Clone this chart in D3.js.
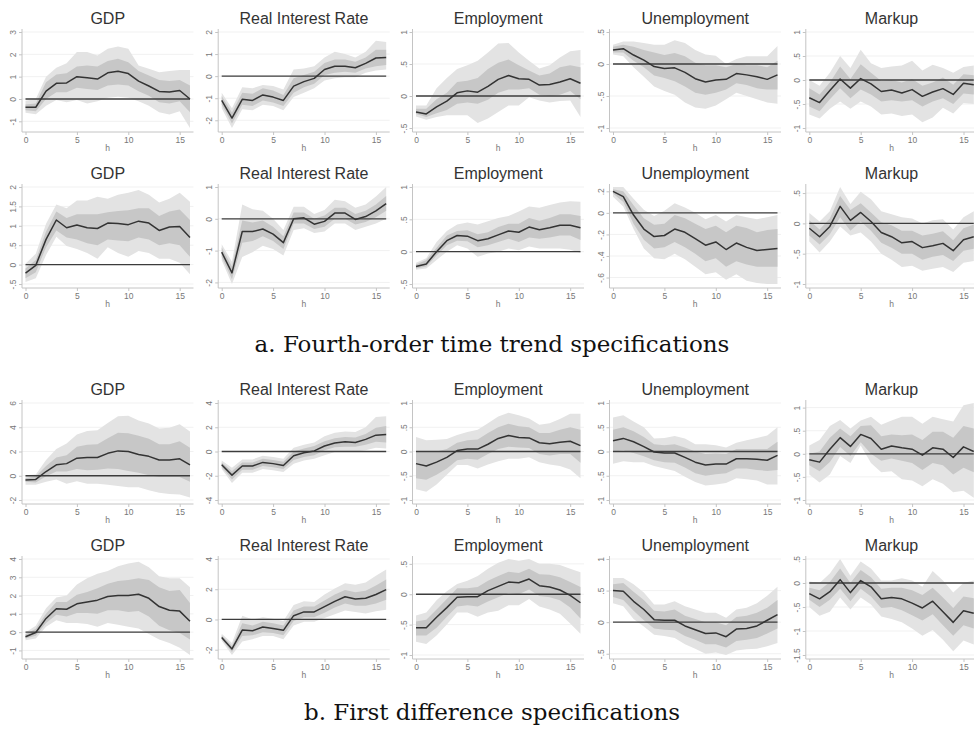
<!DOCTYPE html>
<html><head><meta charset="utf-8">
<script src="https://cdn.jsdelivr.net/npm/d3@7"></script>
<style>body{margin:0;background:#fff}svg{display:block}</style>
</head><body><svg id="c" width="974" height="735"></svg>
<script>
// ---------- data ----------
const horizons = [0,1,2,3,4,5,6,7,8,9,10,11,12,13,14,15,16];
const xTicks = [0,5,10,15];
const titles = ["GDP","Real Interest Rate","Employment","Unemployment","Markup"];
const captions = ["a. Fourth-order time trend specifications","b. First difference specifications"];

// Row 1 (a, upper)
const r1Gdp_irf   = [-0.37,-0.37,0.35,0.7,0.72,1.0,0.95,0.89,1.17,1.24,1.14,0.8,0.58,0.34,0.31,0.38,0.0];
const r1Gdp_inLo  = [-0.5,-0.55,0.0,0.3,0.3,0.5,0.45,0.4,0.6,0.65,0.6,0.35,0.15,-0.15,-0.2,-0.1,-0.6];
const r1Gdp_inHi  = [-0.25,-0.2,0.75,1.1,1.15,1.45,1.5,1.45,1.7,1.8,1.65,1.25,1.05,0.85,0.8,0.85,0.6];
const r1Gdp_outLo = [-0.62,-0.68,-0.3,-0.05,-0.15,-0.05,-0.2,-0.1,0.05,0.1,0.05,-0.1,-0.3,-0.6,-0.7,-0.55,-1.3];
const r1Gdp_outHi = [-0.08,0.0,1.0,1.4,1.6,2.1,2.1,1.95,2.25,2.35,2.25,1.5,1.35,1.2,1.25,1.3,1.3];
const r1Gdp_ticks = [-1,0,1,2,3];

const r1Rir_irf   = [-1.1,-1.9,-1.05,-1.1,-0.85,-0.95,-1.1,-0.45,-0.25,-0.1,0.3,0.45,0.45,0.38,0.58,0.82,0.85];
const r1Rir_inLo  = [-1.3,-2.15,-1.3,-1.35,-1.1,-1.2,-1.35,-0.75,-0.5,-0.35,0.05,0.15,0.2,0.15,0.35,0.45,0.5];
const r1Rir_inHi  = [-0.9,-1.65,-0.75,-0.8,-0.55,-0.65,-0.85,-0.1,0.05,0.2,0.6,0.75,0.75,0.65,0.85,1.2,1.2];
const r1Rir_outLo = [-1.45,-2.35,-1.5,-1.55,-1.3,-1.35,-1.55,-0.95,-0.75,-0.55,-0.2,-0.1,-0.05,-0.05,0.15,0.25,0.3];
const r1Rir_outHi = [-0.75,-1.45,-0.5,-0.55,-0.4,-0.45,-0.6,0.3,0.35,0.45,0.85,1.1,1.0,0.85,1.1,1.6,1.55];
const r1Rir_ticks = [-2,-1,0,1,2];

const r1Emp_irf   = [-0.25,-0.28,-0.17,-0.08,0.05,0.08,0.06,0.15,0.26,0.32,0.27,0.26,0.17,0.18,0.22,0.27,0.2];
const r1Emp_inLo  = [-0.28,-0.33,-0.27,-0.22,-0.12,-0.1,-0.12,-0.06,0.05,0.1,0.1,0.12,0.02,0.0,0.02,0.08,-0.05];
const r1Emp_inHi  = [-0.2,-0.2,-0.05,0.05,0.22,0.24,0.28,0.42,0.52,0.57,0.48,0.4,0.32,0.35,0.45,0.48,0.45];
const r1Emp_outLo = [-0.32,-0.37,-0.33,-0.3,-0.3,-0.3,-0.42,-0.35,-0.25,-0.15,-0.15,-0.02,-0.07,-0.1,-0.08,-0.07,-0.33];
const r1Emp_outHi = [-0.15,-0.15,0.12,0.28,0.42,0.48,0.55,0.68,0.82,0.83,0.68,0.55,0.43,0.48,0.6,0.7,0.72];
const r1Emp_ticks = [-0.5,0,0.5,1];

const r1Une_irf   = [0.22,0.24,0.14,0.06,-0.04,-0.07,-0.06,-0.13,-0.23,-0.28,-0.25,-0.24,-0.15,-0.17,-0.2,-0.24,-0.17];
const r1Une_inLo  = [0.18,0.18,0.05,-0.05,-0.18,-0.22,-0.27,-0.35,-0.45,-0.48,-0.45,-0.4,-0.3,-0.33,-0.38,-0.4,-0.4];
const r1Une_inHi  = [0.27,0.3,0.27,0.22,0.18,0.14,0.17,0.12,0.02,-0.02,-0.02,-0.05,0.0,-0.02,-0.02,-0.05,0.05];
const r1Une_outLo = [0.15,0.12,-0.05,-0.2,-0.35,-0.42,-0.48,-0.6,-0.68,-0.7,-0.65,-0.55,-0.45,-0.5,-0.55,-0.6,-0.62];
const r1Une_outHi = [0.3,0.35,0.35,0.33,0.3,0.3,0.37,0.33,0.22,0.15,0.13,0.0,0.08,0.12,0.12,0.12,0.28];
const r1Une_ticks = [-1,-0.5,0,0.5];

const r1Mku_irf   = [-0.37,-0.47,-0.22,0.02,-0.17,0.03,-0.08,-0.24,-0.21,-0.27,-0.2,-0.34,-0.25,-0.18,-0.3,-0.07,-0.1];
const r1Mku_inLo  = [-0.55,-0.65,-0.4,-0.17,-0.38,-0.2,-0.3,-0.45,-0.42,-0.45,-0.42,-0.55,-0.45,-0.38,-0.5,-0.28,-0.3];
const r1Mku_inHi  = [-0.17,-0.3,-0.05,0.28,0.02,0.33,0.15,-0.02,0.0,-0.05,0.02,-0.12,-0.05,0.05,-0.1,0.12,0.1];
const r1Mku_outLo = [-0.72,-0.8,-0.6,-0.45,-0.6,-0.45,-0.55,-0.72,-0.7,-0.75,-0.72,-0.88,-0.78,-0.58,-0.7,-0.48,-0.5];
const r1Mku_outHi = [0.0,-0.12,0.15,0.5,0.25,0.63,0.35,0.25,0.28,0.3,0.4,0.2,0.32,0.25,0.15,0.27,0.3];
const r1Mku_ticks = [-1,-0.5,0,0.5,1];

// Row 2 (a, lower)
const r2Gdp_irf   = [-0.22,-0.02,0.65,1.15,0.95,1.02,0.95,0.93,1.07,1.06,1.03,1.12,1.07,0.88,0.97,0.98,0.7];
const r2Gdp_inLo  = [-0.35,-0.2,0.45,0.88,0.7,0.65,0.55,0.5,0.65,0.62,0.6,0.7,0.65,0.5,0.55,0.5,0.2];
const r2Gdp_inHi  = [-0.1,0.12,0.85,1.37,1.2,1.3,1.3,1.3,1.35,1.38,1.4,1.45,1.45,1.25,1.37,1.42,1.15];
const r2Gdp_outLo = [-0.45,-0.35,0.25,0.72,0.48,0.4,0.3,0.15,0.45,0.3,0.2,0.35,0.3,0.15,0.15,0.05,-0.25];
const r2Gdp_outHi = [0.02,0.28,1.05,1.55,1.45,1.65,1.65,1.75,1.7,1.8,1.85,1.92,1.8,1.6,1.7,1.85,1.62];
const r2Gdp_ticks = [-0.5,0,0.5,1,1.5,2];

const r2Rir_irf   = [-1.05,-1.7,-0.4,-0.4,-0.32,-0.48,-0.75,0.0,0.03,-0.17,-0.08,0.18,0.18,-0.02,0.07,0.25,0.48];
const r2Rir_inLo  = [-1.2,-1.9,-0.75,-0.7,-0.55,-0.7,-0.95,-0.15,-0.15,-0.32,-0.25,0.0,0.0,-0.18,-0.1,0.05,0.25];
const r2Rir_inHi  = [-0.9,-1.5,-0.05,-0.12,-0.05,-0.25,-0.55,0.2,0.2,0.0,0.1,0.35,0.35,0.15,0.25,0.45,0.72];
const r2Rir_outLo = [-1.3,-2.05,-1.2,-1.05,-0.85,-0.95,-1.15,-0.35,-0.3,-0.45,-0.4,-0.15,-0.15,-0.35,-0.25,-0.15,0.0];
const r2Rir_outHi = [-0.8,-1.35,0.45,0.3,0.25,0.0,-0.35,0.38,0.38,0.15,0.28,0.6,0.55,0.35,0.45,0.7,1.0];
const r2Rir_ticks = [-2,-1,0,1];

const r2Emp_irf   = [-0.23,-0.19,0.0,0.17,0.25,0.24,0.17,0.2,0.26,0.32,0.3,0.38,0.34,0.37,0.41,0.41,0.37];
const r2Emp_inLo  = [-0.26,-0.23,-0.06,0.1,0.17,0.16,0.07,0.1,0.15,0.2,0.15,0.22,0.2,0.22,0.25,0.25,0.18];
const r2Emp_inHi  = [-0.2,-0.13,0.06,0.25,0.32,0.33,0.27,0.3,0.38,0.43,0.43,0.52,0.48,0.52,0.58,0.58,0.55];
const r2Emp_outLo = [-0.28,-0.26,-0.13,0.0,0.1,0.05,-0.08,-0.03,0.0,0.05,0.02,0.08,0.05,0.05,0.05,0.03,-0.02];
const r2Emp_outHi = [-0.17,-0.1,0.15,0.32,0.42,0.45,0.42,0.47,0.52,0.55,0.62,0.7,0.68,0.72,0.76,0.78,0.77];
const r2Emp_ticks = [-0.5,0,0.5,1];

const r2Une_irf   = [0.2,0.15,-0.02,-0.15,-0.22,-0.21,-0.15,-0.18,-0.24,-0.3,-0.27,-0.34,-0.28,-0.32,-0.35,-0.34,-0.33];
const r2Une_inLo  = [0.18,0.1,-0.1,-0.25,-0.33,-0.32,-0.27,-0.32,-0.38,-0.45,-0.42,-0.5,-0.45,-0.48,-0.5,-0.5,-0.5];
const r2Une_inHi  = [0.22,0.2,0.07,-0.05,-0.11,-0.1,-0.02,-0.05,-0.1,-0.15,-0.12,-0.18,-0.12,-0.14,-0.18,-0.16,-0.15];
const r2Une_outLo = [0.15,0.06,-0.15,-0.33,-0.42,-0.43,-0.38,-0.43,-0.5,-0.57,-0.55,-0.62,-0.57,-0.63,-0.65,-0.66,-0.66];
const r2Une_outHi = [0.24,0.24,0.13,0.03,-0.03,0.02,0.09,0.05,0.0,-0.06,-0.02,-0.08,-0.02,-0.04,-0.06,-0.04,-0.02];
const r2Une_ticks = [-0.6,-0.4,-0.2,0,0.2];

const r2Mku_irf   = [-0.08,-0.22,-0.05,0.28,0.05,0.18,0.03,-0.15,-0.22,-0.32,-0.3,-0.4,-0.37,-0.33,-0.45,-0.27,-0.22];
const r2Mku_inLo  = [-0.2,-0.35,-0.18,0.1,-0.12,0.03,-0.12,-0.32,-0.4,-0.5,-0.5,-0.6,-0.55,-0.52,-0.62,-0.45,-0.42];
const r2Mku_inHi  = [0.05,-0.1,0.08,0.45,0.22,0.33,0.18,0.02,-0.03,-0.12,-0.12,-0.2,-0.17,-0.13,-0.28,-0.08,-0.02];
const r2Mku_outLo = [-0.3,-0.48,-0.3,-0.05,-0.2,-0.15,-0.3,-0.5,-0.6,-0.72,-0.7,-0.78,-0.75,-0.72,-0.8,-0.65,-0.62];
const r2Mku_outHi = [0.17,0.03,0.2,0.6,0.32,0.52,0.4,0.2,0.15,0.1,0.08,0.0,0.05,0.07,-0.1,0.1,0.2];
const r2Mku_ticks = [-1,-0.5,0,0.5];

// Row 3 (b, upper)
const r3Gdp_irf   = [-0.35,-0.3,0.35,0.9,1.0,1.45,1.5,1.5,1.85,2.05,2.0,1.75,1.6,1.3,1.3,1.4,0.9];
const r3Gdp_inLo  = [-0.5,-0.55,-0.05,0.35,0.35,0.55,0.45,0.5,0.6,0.55,0.4,0.25,0.05,-0.1,-0.1,-0.1,-0.5];
const r3Gdp_inHi  = [-0.2,-0.05,0.8,1.5,1.7,2.4,2.55,2.6,3.1,3.55,3.5,3.3,3.05,2.6,2.6,2.85,2.3];
const r3Gdp_outLo = [-0.75,-0.75,-0.5,-0.3,-0.65,-0.45,-0.65,-0.65,-0.75,-0.85,-0.95,-0.95,-1.2,-1.4,-1.5,-1.55,-1.8];
const r3Gdp_outHi = [0.05,0.1,1.3,2.2,2.65,3.4,3.7,3.75,4.35,4.9,4.95,4.55,4.3,3.9,3.95,4.25,3.65];
const r3Gdp_ticks = [-2,0,2,4,6];

const r3Rir_irf   = [-1.1,-1.95,-1.2,-1.2,-0.9,-1.0,-1.15,-0.35,-0.1,0.05,0.45,0.7,0.8,0.75,1.0,1.35,1.4];
const r3Rir_inLo  = [-1.3,-2.3,-1.5,-1.5,-1.2,-1.3,-1.45,-0.7,-0.45,-0.3,0.1,0.35,0.4,0.4,0.55,0.8,0.75];
const r3Rir_inHi  = [-0.9,-1.6,-0.9,-0.9,-0.6,-0.7,-0.85,0.0,0.25,0.45,0.85,1.1,1.2,1.15,1.45,1.95,2.1];
const r3Rir_outLo = [-1.45,-2.6,-1.75,-1.75,-1.45,-1.55,-1.7,-1.0,-0.75,-0.6,-0.3,-0.05,0.0,0.0,0.1,0.3,0.25];
const r3Rir_outHi = [-0.75,-1.35,-0.65,-0.65,-0.35,-0.45,-0.6,0.3,0.55,0.75,1.25,1.55,1.65,1.6,2.0,2.85,2.9];
const r3Rir_ticks = [-4,-2,0,2,4];

const r3Emp_irf   = [-0.25,-0.3,-0.22,-0.12,0.02,0.05,0.05,0.15,0.27,0.33,0.29,0.28,0.18,0.16,0.19,0.21,0.12];
const r3Emp_inLo  = [-0.55,-0.58,-0.48,-0.35,-0.18,-0.15,-0.17,-0.05,0.05,0.1,0.08,0.07,-0.05,-0.08,-0.05,-0.05,-0.23];
const r3Emp_inHi  = [0.0,0.0,0.0,0.05,0.18,0.23,0.25,0.38,0.5,0.57,0.52,0.5,0.38,0.38,0.45,0.5,0.45];
const r3Emp_outLo = [-0.78,-0.83,-0.68,-0.48,-0.28,-0.28,-0.35,-0.27,-0.2,-0.15,-0.15,-0.12,-0.22,-0.27,-0.3,-0.37,-0.55];
const r3Emp_outHi = [0.3,0.23,0.24,0.26,0.34,0.4,0.45,0.58,0.72,0.8,0.75,0.68,0.55,0.58,0.67,0.78,0.78];
const r3Emp_ticks = [-1,-0.5,0,0.5,1];

const r3Une_irf   = [0.22,0.27,0.2,0.1,-0.01,-0.03,-0.03,-0.12,-0.22,-0.28,-0.26,-0.26,-0.15,-0.15,-0.16,-0.18,-0.08];
const r3Une_inLo  = [0.0,0.02,-0.03,-0.1,-0.18,-0.22,-0.23,-0.33,-0.45,-0.5,-0.47,-0.45,-0.35,-0.35,-0.38,-0.4,-0.38];
const r3Une_inHi  = [0.45,0.5,0.42,0.3,0.15,0.13,0.15,0.08,0.0,-0.05,-0.04,-0.05,0.05,0.05,0.05,0.05,0.2];
const r3Une_outLo = [-0.25,-0.2,-0.22,-0.22,-0.3,-0.35,-0.4,-0.52,-0.63,-0.7,-0.68,-0.65,-0.55,-0.57,-0.6,-0.68,-0.68];
const r3Une_outHi = [0.7,0.75,0.62,0.5,0.27,0.28,0.32,0.27,0.15,0.15,0.13,0.08,0.18,0.23,0.28,0.33,0.5];
const r3Une_ticks = [-1,-0.5,0,0.5,1];

const r3Mku_irf   = [-0.13,-0.18,0.1,0.35,0.16,0.42,0.33,0.1,0.17,0.13,0.1,-0.03,0.13,0.1,-0.08,0.15,0.05];
const r3Mku_inLo  = [-0.25,-0.38,-0.18,0.15,-0.05,0.25,0.0,-0.15,-0.1,-0.15,-0.2,-0.35,-0.2,-0.25,-0.45,-0.3,-0.4];
const r3Mku_inHi  = [0.0,0.05,0.35,0.55,0.38,0.6,0.62,0.38,0.42,0.4,0.42,0.3,0.48,0.48,0.35,0.6,0.55];
const r3Mku_outLo = [-0.45,-0.62,-0.45,-0.05,-0.2,0.18,-0.2,-0.4,-0.38,-0.55,-0.58,-0.7,-0.55,-0.65,-0.83,-0.8,-0.95];
const r3Mku_outHi = [0.18,0.3,0.6,0.73,0.55,0.72,0.8,0.63,0.72,0.8,0.8,0.65,0.8,0.75,0.7,1.05,1.1];
const r3Mku_ticks = [-1,-0.5,0,0.5,1];

// Row 4 (b, lower)
const r4Gdp_irf   = [-0.25,-0.02,0.75,1.28,1.25,1.55,1.65,1.75,1.95,2.0,2.0,2.07,1.85,1.4,1.2,1.15,0.6];
const r4Gdp_inLo  = [-0.35,-0.2,0.5,0.95,0.85,1.05,1.05,1.0,1.2,1.2,1.1,1.15,0.85,0.35,0.1,-0.05,-0.4];
const r4Gdp_inHi  = [-0.12,0.18,1.0,1.65,1.65,2.05,2.2,2.4,2.65,2.8,2.85,2.95,2.85,2.45,2.25,2.3,1.6];
const r4Gdp_outLo = [-0.45,-0.35,0.3,0.65,0.5,0.5,0.45,0.3,0.5,0.4,0.3,0.2,-0.1,-0.4,-0.6,-0.85,-1.25];
const r4Gdp_outHi = [-0.02,0.35,1.3,1.9,2.0,2.6,2.95,3.2,3.35,3.6,3.75,3.85,3.55,3.05,2.95,2.95,2.45];
const r4Gdp_ticks = [-1,0,1,2,3,4];

const r4Rir_irf   = [-1.2,-1.95,-0.7,-0.75,-0.5,-0.6,-0.72,0.25,0.5,0.5,0.85,1.2,1.5,1.35,1.4,1.65,1.97];
const r4Rir_inLo  = [-1.3,-2.15,-1.1,-1.05,-0.85,-0.9,-1.05,-0.1,0.15,0.15,0.45,0.8,1.05,0.9,0.9,1.05,1.3];
const r4Rir_inHi  = [-1.05,-1.75,-0.25,-0.4,-0.15,-0.25,-0.4,0.6,0.85,0.85,1.25,1.65,1.95,1.8,1.9,2.25,2.65];
const r4Rir_outLo = [-1.4,-2.35,-1.45,-1.3,-1.1,-1.1,-1.3,-0.4,-0.15,-0.15,0.1,0.35,0.6,0.5,0.4,0.55,0.65];
const r4Rir_outHi = [-0.95,-1.55,0.25,0.0,0.15,0.05,-0.1,0.95,1.2,1.15,1.65,2.05,2.4,2.3,2.45,2.9,3.3];
const r4Rir_ticks = [-2,0,2,4];

const r4Emp_irf   = [-0.55,-0.55,-0.38,-0.22,-0.05,-0.04,-0.04,0.06,0.13,0.2,0.19,0.25,0.14,0.12,0.07,-0.02,-0.14];
const r4Emp_inLo  = [-0.68,-0.68,-0.55,-0.37,-0.2,-0.18,-0.2,-0.12,-0.05,0.02,0.0,0.08,-0.03,-0.05,-0.1,-0.22,-0.4];
const r4Emp_inHi  = [-0.45,-0.42,-0.25,-0.08,0.1,0.1,0.12,0.22,0.3,0.37,0.35,0.42,0.33,0.32,0.28,0.2,0.12];
const r4Emp_outLo = [-0.78,-0.82,-0.68,-0.5,-0.3,-0.3,-0.37,-0.3,-0.27,-0.18,-0.18,-0.08,-0.2,-0.25,-0.32,-0.48,-0.65];
const r4Emp_outHi = [-0.35,-0.3,-0.1,0.05,0.17,0.22,0.3,0.42,0.52,0.58,0.55,0.58,0.5,0.5,0.48,0.42,0.36];
const r4Emp_ticks = [-1,-0.5,0,0.5];

const r4Une_irf   = [0.5,0.49,0.33,0.2,0.04,0.03,0.03,-0.06,-0.12,-0.18,-0.17,-0.23,-0.11,-0.1,-0.06,0.03,0.12];
const r4Une_inLo  = [0.4,0.35,0.18,0.03,-0.1,-0.12,-0.13,-0.22,-0.28,-0.35,-0.35,-0.4,-0.3,-0.28,-0.25,-0.18,-0.1];
const r4Une_inHi  = [0.6,0.62,0.48,0.35,0.18,0.17,0.2,0.1,0.05,0.0,0.0,-0.05,0.08,0.1,0.15,0.23,0.35];
const r4Une_outLo = [0.3,0.25,0.05,-0.07,-0.2,-0.22,-0.25,-0.35,-0.42,-0.5,-0.48,-0.52,-0.45,-0.43,-0.42,-0.38,-0.33];
const r4Une_outHi = [0.7,0.7,0.6,0.47,0.28,0.28,0.33,0.25,0.2,0.15,0.15,0.07,0.2,0.23,0.3,0.42,0.56];
const r4Une_ticks = [-0.5,0,0.5,1];

const r4Mku_irf   = [-0.22,-0.33,-0.18,0.07,-0.2,0.05,-0.08,-0.33,-0.3,-0.33,-0.42,-0.52,-0.38,-0.6,-0.82,-0.58,-0.63];
const r4Mku_inLo  = [-0.35,-0.5,-0.35,-0.12,-0.38,-0.12,-0.28,-0.52,-0.5,-0.57,-0.67,-0.78,-0.65,-0.88,-1.1,-0.88,-0.95];
const r4Mku_inHi  = [-0.1,-0.15,0.02,0.3,0.0,0.27,0.12,-0.12,-0.1,-0.1,-0.15,-0.25,-0.1,-0.3,-0.52,-0.28,-0.32];
const r4Mku_outLo = [-0.5,-0.68,-0.6,-0.3,-0.55,-0.3,-0.45,-0.7,-0.75,-0.82,-0.95,-1.1,-0.98,-1.18,-1.42,-1.2,-1.28];
const r4Mku_outHi = [0.03,0.0,0.2,0.5,0.15,0.45,0.3,0.05,0.05,0.1,0.05,-0.08,0.25,0.05,-0.2,0.0,0.05];
const r4Mku_ticks = [-1.5,-1,-0.5,0,0.5];

// ---------- assemble ----------
const P = (irf, inLo, inHi, outLo, outHi, ticks) => ({irf, inLo, inHi, outLo, outHi, ticks});
const rows = [
  [P(r1Gdp_irf,r1Gdp_inLo,r1Gdp_inHi,r1Gdp_outLo,r1Gdp_outHi,r1Gdp_ticks),
   P(r1Rir_irf,r1Rir_inLo,r1Rir_inHi,r1Rir_outLo,r1Rir_outHi,r1Rir_ticks),
   P(r1Emp_irf,r1Emp_inLo,r1Emp_inHi,r1Emp_outLo,r1Emp_outHi,r1Emp_ticks),
   P(r1Une_irf,r1Une_inLo,r1Une_inHi,r1Une_outLo,r1Une_outHi,r1Une_ticks),
   P(r1Mku_irf,r1Mku_inLo,r1Mku_inHi,r1Mku_outLo,r1Mku_outHi,r1Mku_ticks)],
  [P(r2Gdp_irf,r2Gdp_inLo,r2Gdp_inHi,r2Gdp_outLo,r2Gdp_outHi,r2Gdp_ticks),
   P(r2Rir_irf,r2Rir_inLo,r2Rir_inHi,r2Rir_outLo,r2Rir_outHi,r2Rir_ticks),
   P(r2Emp_irf,r2Emp_inLo,r2Emp_inHi,r2Emp_outLo,r2Emp_outHi,r2Emp_ticks),
   P(r2Une_irf,r2Une_inLo,r2Une_inHi,r2Une_outLo,r2Une_outHi,r2Une_ticks),
   P(r2Mku_irf,r2Mku_inLo,r2Mku_inHi,r2Mku_outLo,r2Mku_outHi,r2Mku_ticks)],
  [P(r3Gdp_irf,r3Gdp_inLo,r3Gdp_inHi,r3Gdp_outLo,r3Gdp_outHi,r3Gdp_ticks),
   P(r3Rir_irf,r3Rir_inLo,r3Rir_inHi,r3Rir_outLo,r3Rir_outHi,r3Rir_ticks),
   P(r3Emp_irf,r3Emp_inLo,r3Emp_inHi,r3Emp_outLo,r3Emp_outHi,r3Emp_ticks),
   P(r3Une_irf,r3Une_inLo,r3Une_inHi,r3Une_outLo,r3Une_outHi,r3Une_ticks),
   P(r3Mku_irf,r3Mku_inLo,r3Mku_inHi,r3Mku_outLo,r3Mku_outHi,r3Mku_ticks)],
  [P(r4Gdp_irf,r4Gdp_inLo,r4Gdp_inHi,r4Gdp_outLo,r4Gdp_outHi,r4Gdp_ticks),
   P(r4Rir_irf,r4Rir_inLo,r4Rir_inHi,r4Rir_outLo,r4Rir_outHi,r4Rir_ticks),
   P(r4Emp_irf,r4Emp_inLo,r4Emp_inHi,r4Emp_outLo,r4Emp_outHi,r4Emp_ticks),
   P(r4Une_irf,r4Une_inLo,r4Une_inHi,r4Une_outLo,r4Une_outHi,r4Une_ticks),
   P(r4Mku_irf,r4Mku_inLo,r4Mku_inHi,r4Mku_outLo,r4Mku_outHi,r4Mku_ticks)]
];

// ---------- layout ----------
const colX0 = [25.5, 221.7, 416, 613, 809.3];
const unitW = 10.28;
const rowTop = [29, 184, 400, 556];
const rowBottom = [132, 288, 504, 659];

const svg = d3.select("#c");
svg.append("rect").attr("width",974).attr("height",735).attr("fill","#fff");

const fmt = v => v === 0 ? "0" : String(v).replace(/^(-?)0\./, "$1.");
const C = {outer:"#e3e3e3", inner:"#c7c7c7", line:"#333", zero:"#3c3c3c", axis:"#c4c4c4", grid:"#f1f1f1", tickTxt:"#777", title:"#333"};

rows.forEach((row, ri) => {
  const top = rowTop[ri], bottom = rowBottom[ri];
  row.forEach((p, ci) => {
    const x0 = colX0[ci];
    const x = d3.scaleLinear().domain([0,16]).range([x0, x0 + 16*unitW]);
    const lo = Math.min(d3.min(p.ticks), d3.min(p.outLo), d3.min(p.irf));
    const hi = Math.max(d3.max(p.ticks), d3.max(p.outHi), d3.max(p.irf));
    const y = d3.scaleLinear().domain([lo, hi]).range([bottom - 4, top + 3]);
    const axX = x0 - 3.5, right = x0 + 16*unitW + 3.5;
    const g = svg.append("g");

    // gridlines
    g.selectAll("line.grid").data(p.ticks).join("line")
      .attr("x1", axX).attr("x2", right)
      .attr("y1", d => y(d)).attr("y2", d => y(d))
      .attr("stroke", C.grid).attr("stroke-width", 1);

    const pts = horizons.map((h, i) => ({h, irf:p.irf[i], inLo:p.inLo[i], inHi:p.inHi[i], outLo:p.outLo[i], outHi:p.outHi[i]}));
    g.append("path").datum(pts)
      .attr("d", d3.area().x(d => x(d.h)).y0(d => y(d.outLo)).y1(d => y(d.outHi)))
      .attr("fill", C.outer);
    g.append("path").datum(pts)
      .attr("d", d3.area().x(d => x(d.h)).y0(d => y(d.inLo)).y1(d => y(d.inHi)))
      .attr("fill", C.inner);
    // zero line
    g.append("line").attr("x1", x(0)).attr("x2", x(16))
      .attr("y1", y(0)).attr("y2", y(0))
      .attr("stroke", C.zero).attr("stroke-width", 1.3);
    g.append("path").datum(pts)
      .attr("d", d3.line().x(d => x(d.h)).y(d => y(d.irf)))
      .attr("fill", "none").attr("stroke", C.line).attr("stroke-width", 1.5)
      .attr("stroke-linejoin", "round");

    // y axis
    const ya = g.append("g").attr("transform", `translate(${axX},0)`)
      .call(d3.axisLeft(y).tickValues(p.ticks).tickFormat(fmt).tickSize(3).tickSizeOuter(0));
    ya.select(".domain").remove();
    ya.selectAll(".tick line").attr("stroke", C.axis);
    ya.selectAll(".tick text")
      .attr("x", null).attr("dy", null)
      .attr("text-anchor", "middle")
      .attr("transform", "translate(-6,0) rotate(-90)")
      .attr("fill", C.tickTxt).attr("font-family", "Liberation Sans, Arial, sans-serif").attr("font-size", 8.5);
    g.append("line").attr("x1", axX).attr("x2", axX).attr("y1", top).attr("y2", bottom)
      .attr("stroke", C.axis).attr("stroke-width", 1);

    // x axis
    const xa = g.append("g").attr("transform", `translate(0,${bottom})`)
      .call(d3.axisBottom(x).tickValues(xTicks).tickSize(3).tickSizeOuter(0));
    xa.select(".domain").remove();
    xa.selectAll(".tick line").attr("stroke", C.axis);
    xa.selectAll(".tick text").attr("y", 5).attr("fill", C.tickTxt)
      .attr("font-family", "Liberation Sans, Arial, sans-serif").attr("font-size", 8.5);
    g.append("line").attr("x1", axX).attr("x2", right).attr("y1", bottom).attr("y2", bottom)
      .attr("stroke", C.axis).attr("stroke-width", 1);
    g.append("text").attr("x", (axX + right)/2).attr("y", bottom + 19)
      .attr("text-anchor", "middle").attr("fill", C.tickTxt)
      .attr("font-family", "Liberation Sans, Arial, sans-serif").attr("font-size", 8.5).text("h");

    // title
    g.append("text").attr("x", (axX + right)/2).attr("y", top - 5)
      .attr("text-anchor", "middle").attr("fill", C.title)
      .attr("font-family", "Liberation Sans, Arial, sans-serif").attr("font-size", 16)
      .text(titles[ci]);
  });
});

// captions
const capY = [352, 720];
const capEls = captions.map((t, i) => svg.append("text")
  .attr("x", 492).attr("y", capY[i]).attr("text-anchor", "middle")
  .attr("fill", "#111").attr("font-family", "DejaVu Serif, serif").attr("font-size", 21).text(t));
const w0 = capEls[0].node().getComputedTextLength();
const fs = Math.max(17, Math.min(24, 21 * 475 / w0));
capEls.forEach(e => e.attr("font-size", fs));
</script></body></html>
